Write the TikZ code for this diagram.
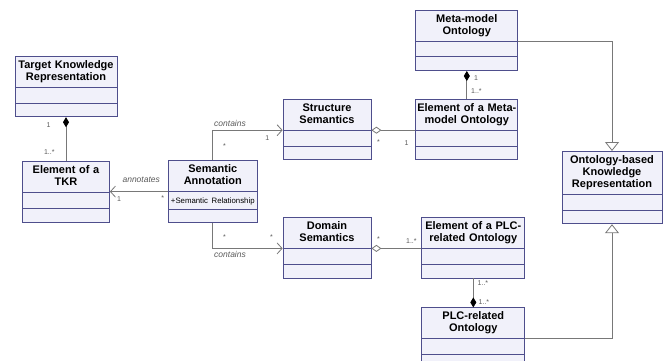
\documentclass[tikz,border=0pt]{standalone}
\usepackage{fontspec}
\setmainfont{Liberation Sans}
\usetikzlibrary{shapes.multipart, arrows.meta, positioning, calc}
\definecolor{clsline}{HTML}{4E4E8C}
\definecolor{clsfill}{HTML}{F1F1FA}
\definecolor{conn}{HTML}{787878}
\definecolor{multc}{HTML}{5A5A5A}
\newcommand{\umlclass}[2]{\strut #1\strut\nodepart{two}\rule{0pt}{9pt}#2\nodepart{three}\rule{0pt}{7pt}}
\tikzset{
  cls/.style={rectangle split, rectangle split parts=3, rectangle split draw splits,
    draw=clsline, fill=clsfill, line width=.8pt, text width=#1, align=center,
    inner xsep=1pt, inner ysep=3pt, anchor=north, font=\fontsize{11}{12}\selectfont\bfseries},
  link/.style={draw=conn, line width=.8pt},
  comp/.style={link, arrows={Diamond[length=10pt,width=6pt,color=black]-}},
  compend/.style={link, arrows={-Diamond[length=10pt,width=6pt,color=black]}},
  aggr/.style={link, arrows={Diamond[length=10pt,width=7pt,fill=white]-}},
  nav/.style={link, arrows={-Straight Barb[length=5pt,width=11pt]}},
  gen/.style={link, arrows={-Triangle[length=9pt,width=14pt,fill=white]}},
  mult/.style={font=\fontsize{7}{8}\selectfont, text=multc, inner sep=1pt},
  assocname/.style={font=\fontsize{8.5}{10}\selectfont\itshape, text=multc, inner sep=1pt}
}
\begin{document}
\begin{tikzpicture}[x=1pt,y=-1pt]
\path [fill=white, use as bounding box] (0,0) rectangle (666,360);
\draw node [cls=100pt] (tkr) at (66,56) {\umlclass{Target Knowledge\\Representation}{}};
\draw node [cls=85pt] [below=44pt of tkr] (tkrelem) {\umlclass{Element of a\\TKR}{}};
\draw node [cls=87pt] [right=58pt of tkrelem] (semann) {\umlclass{Semantic\\Annotation}{\mbox{\fontsize{7.8}{8}\mdseries\selectfont +Semantic Relationship}}};
\draw node [cls=86pt] (structsem) at (327,99) {\umlclass{Structure\\Semantics}{}};
\draw node [cls=86pt] [below=57pt of structsem] (domsem) {\umlclass{Domain\\Semantics}{}};
\draw node [cls=100pt] [right=44pt of structsem] (metaelem) {\umlclass{Element of a Meta-\\model Ontology}{}};
\draw node [cls=100pt] [above=28pt of metaelem] (meta) {\umlclass{Meta-model\\Ontology}{}};
\draw node [cls=101pt] [right=50pt of domsem] (plcelem) {\umlclass{Element of a PLC-\\related Ontology}{}};
\draw node [cls=101pt] [below=29pt of plcelem] (plcont) {\umlclass{PLC-related\\Ontology}{}};
\draw node [cls=98pt] (ontkr) at (612,151) {\umlclass{Ontology-based\\Knowledge\\Representation}{}};
\draw [comp] (tkr.south) -- (tkrelem.north)
  node [mult, pos=0.18, left=14pt] (m1) {1}
  node [mult, pos=0.8, left=10pt] (m2) {1..*};
\draw [nav] (semann.text split west) -- (semann.text split west -| tkrelem.east)
  node [assocname, pos=0.46, above=8pt] (ann) {annotates}
  node [mult, pos=0.09, below=3pt] (m3) {*}
  node [mult, pos=0.84, below=4pt] (m4) {1};
\draw [nav] (semann.north) |- (structsem.text split west)
  node [mult, pos=0.23, right=9pt] (m5) {*}
  node [assocname, pos=0.5, above right=2pt and 0pt] (con1) {contains}
  node [mult, pos=0.89, below=4pt] (m6) {1};
\draw [nav] (semann.south) |- (domsem.text split west)
  node [mult, pos=0.27, right=9pt] (m7) {*}
  node [mult, pos=0.92, above=8pt] (m8) {*}
  node [assocname, pos=0.5, below right=2pt and 0pt] (con2) {contains};
\draw [aggr] (structsem.text split east) -- (metaelem.text split west)
  node [mult, pos=0.16, below=8pt] (m9) {*}
  node [mult, pos=0.8, below=9pt] (m10) {1};
\draw [comp] (meta.south) -- (metaelem.north)
  node [mult, pos=0.25, right=6pt] (m11) {1}
  node [mult, pos=0.71, right=3pt] (m12) {1..*};
\draw [aggr] (domsem.text split east) -- (plcelem.text split west)
  node [mult, pos=0.14, above=6pt] (m13) {*}
  node [mult, pos=0.8, above=4pt] (m14) {1..*};
\draw [compend] (plcelem.south) -- (plcont.north)
  node [mult, pos=0.17, right=3pt] (m15) {1..*}
  node [mult, pos=0.83, right=4pt] (m16) {1..*};
\draw [gen] (meta.text split east) -| (ontkr.north);
\draw [gen] (plcont.text split east) -| (ontkr.south);
\end{tikzpicture}
\end{document}
